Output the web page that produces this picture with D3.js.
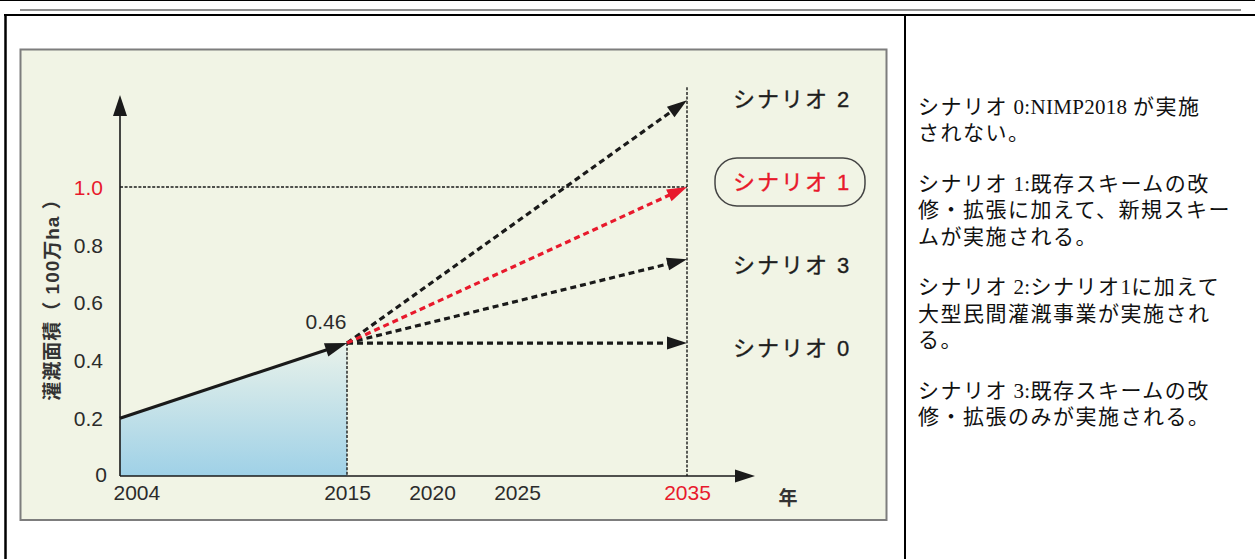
<!DOCTYPE html>
<html lang="ja">
<head>
<meta charset="utf-8">
<script src="https://cdn.jsdelivr.net/npm/d3@7/dist/d3.min.js"></script>
<style>
  html, body { margin: 0; padding: 0; background: #fff; }
  svg { display: block; }
</style>
</head>
<body>
<svg id="fig" width="1255" height="559"></svg>
<script>
// Irrigated area (million ha): observed 2004–2015, and four scenarios to 2035
const observedYears = [2004, 2015];
const observedArea = [0.2, 0.46];
const baseYear = 2015;
const targetYear = 2035;
const scenarioLabels = ["シナリオ 2", "シナリオ 1", "シナリオ 3", "シナリオ 0"];
const scenarioTargets = [1.3, 1.0, 0.75, 0.46];
const highlightedScenario = "シナリオ 1";
const yTicks = [0, 0.2, 0.4, 0.6, 0.8, 1.0];
const xTicks = [2004, 2015, 2020, 2025, 2035];
const targetLine = 1.0;
const yAxisTitle = "灌漑面積（ 100万ha ）";
const xAxisTitle = "年";
const notes = [
  ["シナリオ 0:NIMP2018 が実施", "されない。"],
  ["シナリオ 1:既存スキームの改", "修・拡張に加えて、新規スキー", "ムが実施される。"],
  ["シナリオ 2:シナリオ1に加えて", "大型民間灌漑事業が実施され", "る。"],
  ["シナリオ 3:既存スキームの改", "修・拡張のみが実施される。"]
];

const RED = "#e8192c";
const INK = "#1a1a1a";
const sans = "'Liberation Sans', Arial, 'Noto Sans CJK JP', sans-serif";
const serif = "'Liberation Serif', 'Noto Sans CJK JP', serif";

const svg = d3.select("#fig");

// ---- page frame ----
const frame = svg.append("g");
frame.append("line").attr("x1", 0).attr("x2", 1255).attr("y1", 0.5).attr("y2", 0.5)
  .attr("stroke", "#000").attr("stroke-width", 1);
frame.append("line").attr("x1", 20).attr("x2", 1241).attr("y1", 10).attr("y2", 10)
  .attr("stroke", "#6a6a6a").attr("stroke-width", 1.5);
frame.append("line").attr("x1", 4).attr("x2", 1255).attr("y1", 15).attr("y2", 15)
  .attr("stroke", "#000").attr("stroke-width", 2);
frame.append("line").attr("x1", 5.5).attr("x2", 5.5).attr("y1", 14).attr("y2", 559)
  .attr("stroke", "#000").attr("stroke-width", 2.5);
frame.append("line").attr("x1", 905).attr("x2", 905).attr("y1", 14).attr("y2", 559)
  .attr("stroke", "#000").attr("stroke-width", 2);

// ---- chart panel ----
svg.append("rect").attr("x", 20.5).attr("y", 49.5).attr("width", 866).attr("height", 470.5)
  .attr("fill", "#f1f4e5").attr("stroke", "#7d7d7d").attr("stroke-width", 2);

// scales: the projection period is drawn at a tighter pitch than the observed period
const x = d3.scaleLinear().domain([2004, 2015, 2035]).range([120, 347, 687]);
const y = d3.scaleLinear().domain([0, 1]).range([476, 187]);
const xEnd = 2039;
const yTop = 1.318;
const guideTop = 1.345;

const defs = svg.append("defs");
const grad = defs.append("linearGradient").attr("id", "areaFill")
  .attr("gradientUnits", "userSpaceOnUse")
  .attr("x1", 0).attr("x2", 0).attr("y1", y(observedArea[1])).attr("y2", y(0));
grad.append("stop").attr("offset", 0).attr("stop-color", "#e9f2ea");
grad.append("stop").attr("offset", 1).attr("stop-color", "#9fd1e7");

// shaded observed area
const area = d3.area().x((d, i) => x(observedYears[i])).y0(y(0)).y1(d => y(d));
svg.append("path").datum(observedArea).attr("d", area).attr("fill", "url(#areaFill)");

// arrowhead helper: triangle with tip at (tx, ty) pointing along direction from (fx, fy)
function arrowHead(g, fx, fy, tx, ty, len, wid, color) {
  const a = Math.atan2(ty - fy, tx - fx);
  const bx = tx - len * Math.cos(a), by = ty - len * Math.sin(a);
  const nx = -Math.sin(a) * wid / 2, ny = Math.cos(a) * wid / 2;
  g.append("path")
    .attr("d", `M${tx},${ty}L${bx + nx},${by + ny}L${bx - nx},${by - ny}Z`)
    .attr("fill", color);
}
function shortened(fx, fy, tx, ty, d) {
  const a = Math.atan2(ty - fy, tx - fx);
  return [tx - d * Math.cos(a), ty - d * Math.sin(a)];
}

// ---- guides ----
const guides = svg.append("g").attr("fill", "none").attr("stroke", INK)
  .attr("stroke-width", 1.4).attr("stroke-dasharray", "3,1.6");
guides.append("line").attr("x1", x(2004)).attr("x2", x(targetYear))
  .attr("y1", y(targetLine)).attr("y2", y(targetLine));
guides.append("line").attr("x1", x(baseYear)).attr("x2", x(baseYear))
  .attr("y1", y(observedArea[1])).attr("y2", y(0));
guides.append("line").attr("x1", x(targetYear)).attr("x2", x(targetYear))
  .attr("y1", y(guideTop)).attr("y2", y(0));

// ---- axes lines with arrows ----
const axes = svg.append("g");
axes.append("line").attr("x1", x(2004)).attr("x2", x(2004))
  .attr("y1", y(0)).attr("y2", y(yTop) + 12).attr("stroke", INK).attr("stroke-width", 1.6);
arrowHead(axes, x(2004), y(0), x(2004), y(yTop), 21, 14, INK);
axes.append("line").attr("x1", x(2004)).attr("x2", x(xEnd) - 10)
  .attr("y1", y(0)).attr("y2", y(0)).attr("stroke", INK).attr("stroke-width", 1.6);
arrowHead(axes, x(2004), y(0), x(xEnd), y(0), 20, 13, INK);

// y tick labels
const yAxis = svg.append("g").attr("transform", `translate(${x(2004)},0)`)
  .call(d3.axisLeft(y).tickValues(yTicks).tickSize(0).tickPadding(17)
    .tickFormat(d => d === 0 ? "0" : d3.format(".1f")(d)));
yAxis.select(".domain").remove();
yAxis.attr("font-family", sans).attr("font-size", 21);
yAxis.selectAll("text")
  .attr("fill", d => d === targetLine ? RED : "#2b2b2b")
  .attr("dx", d => d === 0 ? 4 : 0)
  .attr("dy", d => d === 0 ? "0.25em" : "0.35em");

// x tick labels
const xAxis = svg.append("g").attr("transform", `translate(0,${y(0)})`)
  .call(d3.axisBottom(x).tickValues(xTicks).tickSize(0).tickPadding(9)
    .tickFormat(d3.format("d")));
xAxis.select(".domain").remove();
xAxis.attr("font-family", sans).attr("font-size", 21);
xAxis.selectAll("text")
  .attr("fill", d => d === targetYear ? RED : "#2b2b2b")
  .attr("text-anchor", d => d === 2004 ? "start" : "middle")
  .attr("dx", d => d === 2004 ? -7 : 0);

// axis titles
svg.append("text").attr("transform", `translate(59,295) rotate(-90)`)
  .attr("text-anchor", "middle").attr("font-family", sans).attr("font-size", 19)
  .attr("letter-spacing", 1).attr("font-weight", "bold").attr("fill", "#333").text(yAxisTitle);
svg.append("text").attr("x", 788).attr("y", 505).attr("text-anchor", "middle")
  .attr("font-family", sans).attr("font-size", 19).attr("font-weight", "bold")
  .attr("fill", "#333").text(xAxisTitle);

// ---- observed trend (solid arrow) ----
const obs = svg.append("g");
{
  const fx = x(observedYears[0]), fy = y(observedArea[0]);
  const tx = x(observedYears[1]), ty = y(observedArea[1]);
  const [sx, sy] = shortened(fx, fy, tx, ty, 10);
  obs.append("line").attr("x1", fx).attr("y1", fy).attr("x2", sx).attr("y2", sy)
    .attr("stroke", INK).attr("stroke-width", 3.2);
  arrowHead(obs, fx, fy, tx, ty, 22, 14, INK);
}
svg.append("text").attr("x", x(baseYear) - 21).attr("y", y(observedArea[1]) - 14)
  .attr("text-anchor", "middle").attr("font-family", sans).attr("font-size", 21)
  .attr("fill", "#2b2b2b").text(d3.format(".2f")(observedArea[1]));

// ---- scenario projections (dashed arrows), highlighted one drawn last ----
const order = scenarioLabels.map((d, i) => i)
  .sort((a, b) => (scenarioLabels[a] === highlightedScenario) - (scenarioLabels[b] === highlightedScenario));
const proj = svg.append("g");
order.forEach(i => {
  const color = scenarioLabels[i] === highlightedScenario ? RED : INK;
  const fx = x(baseYear), fy = y(observedArea[1]);
  const tx = x(targetYear), ty = y(scenarioTargets[i]);
  const [sx, sy] = shortened(fx, fy, tx, ty, 12);
  proj.append("line").attr("x1", fx).attr("y1", fy).attr("x2", sx).attr("y2", sy)
    .attr("stroke", color).attr("stroke-width", 3.2).attr("stroke-dasharray", "6,4");
  arrowHead(proj, fx, fy, tx, ty, 20, 13, color);
});

// ---- scenario labels, evenly stacked to the right ----
const lab = svg.append("g").attr("font-family", sans).attr("font-size", 22);
scenarioLabels.forEach((name, i) => {
  const cy = 99 + i * 83;
  const hi = name === highlightedScenario;
  if (hi) {
    lab.append("rect").attr("x", 715).attr("y", cy - 24).attr("width", 150).attr("height", 48)
      .attr("rx", 22).attr("fill", "none").attr("stroke", "#444").attr("stroke-width", 1.5);
  }
  lab.append("text").attr("x", 733).attr("y", cy).attr("dy", "0.36em")
    .attr("letter-spacing", 2).attr("fill", hi ? RED : "#1e1e1e")
    .attr("stroke", hi ? RED : "#1e1e1e").attr("stroke-width", 0.35).text(name);
});

// ---- explanatory notes: CJK runs are tracked out, Latin runs are set tight ----
const noteG = svg.append("g").attr("font-family", serif).attr("font-size", 21)
  .attr("fill", "#111");
const noteTop = 106, lineStep = 26.5, paraGap = 24;
let lineNo = 0;
notes.forEach((p, pi) => {
  p.forEach(line => {
    const t = noteG.append("text").attr("x", 918)
      .attr("y", noteTop + lineNo * lineStep + pi * paraGap).attr("dy", "0.36em");
    const runs = line.match(/[\x20-\x7e]+|[^\x20-\x7e]+/g);
    runs.forEach(r => {
      const latin = /^[\x20-\x7e]+$/.test(r);
      t.append("tspan").attr("letter-spacing", latin ? 0.3 : 1.5).text(r);
    });
    lineNo++;
  });
});
</script>
</body>
</html>
